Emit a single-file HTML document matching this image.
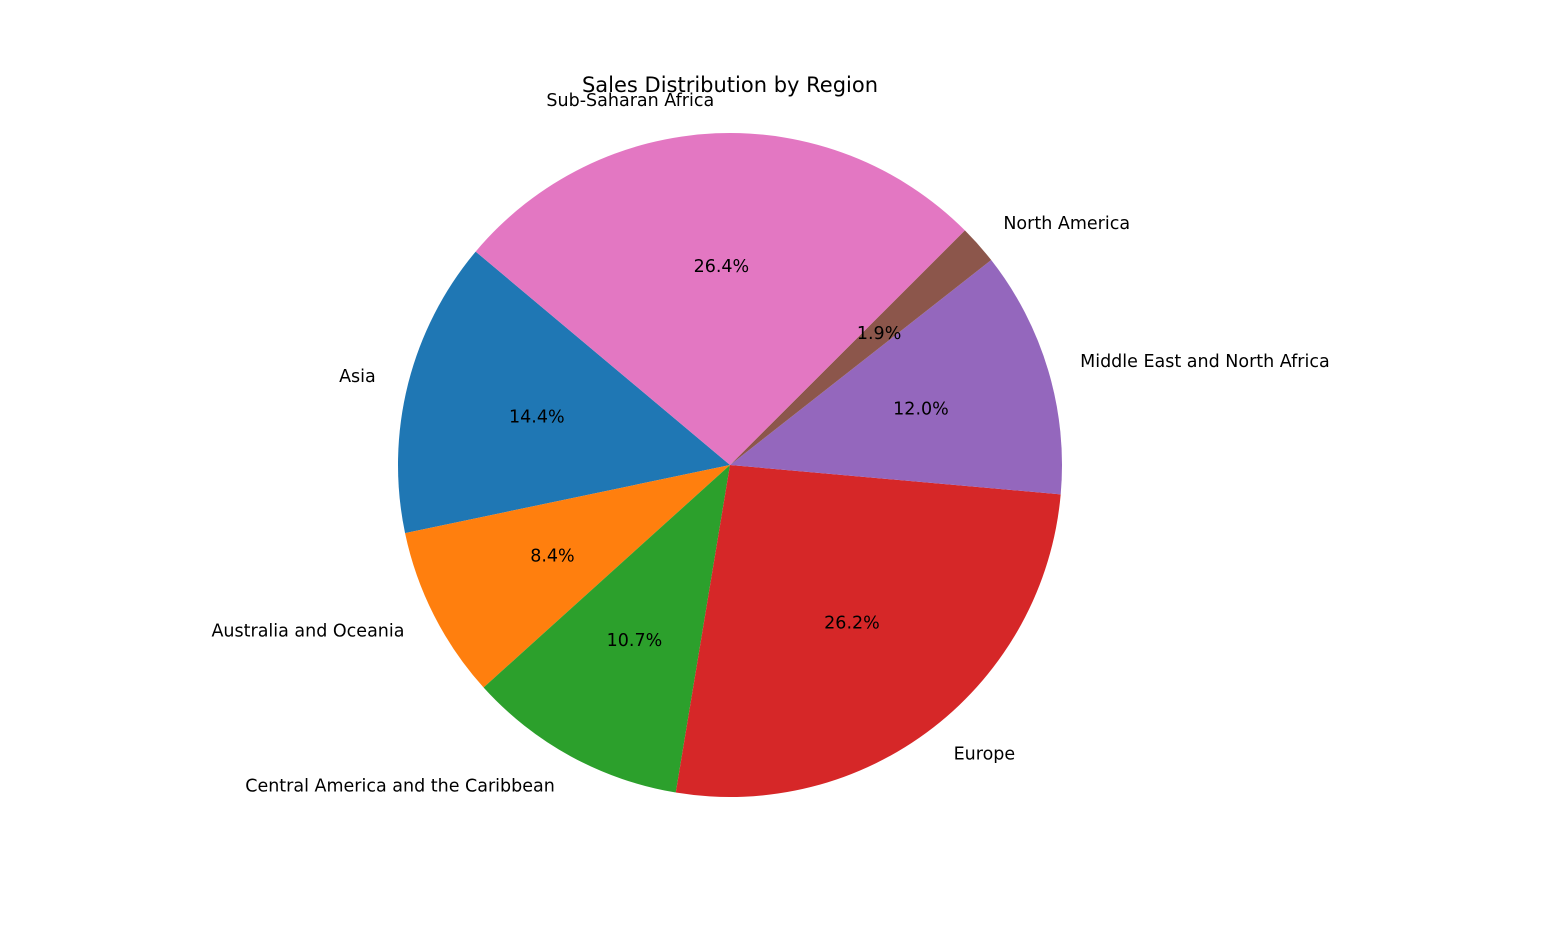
<!DOCTYPE html>
<html><head><meta charset="utf-8"><style>
body{margin:0;background:#fff;}
svg text{font-family:"DejaVu Sans","Liberation Sans",sans-serif;fill:#000;}
</style></head><body>
<svg id="chart" width="1544" height="923" viewBox="0 0 1544 923">
<rect width="1544" height="923" fill="#fff"/>
<text x="730" y="92" text-anchor="middle" font-size="21">Sales Distribution by Region</text>
<g id="slices"></g>
<g id="labels"></g>
</svg>
<script>
const categories = ["Asia","Australia and Oceania","Central America and the Caribbean","Europe","Middle East and North Africa","North America","Sub-Saharan Africa"];
const values = [14.4, 8.4, 10.7, 26.2, 12.0, 1.9, 26.4];
const colors = ["#1f77b4","#ff7f0e","#2ca02c","#d62728","#9467bd","#8c564b","#e377c2"];
const cx = 730, cy = 465, R = 332, startAngle = 140;
const ns = "http://www.w3.org/2000/svg";
const total = values.reduce((a,b)=>a+b,0);
const gS = document.getElementById("slices"), gL = document.getElementById("labels");
function pt(deg, r){ const a = deg*Math.PI/180; return [cx + r*Math.cos(a), cy - r*Math.sin(a)]; }
let ang = startAngle;
values.forEach((v,i)=>{
  const sweep = v/total*360;
  const a0 = ang, a1 = ang + sweep;
  const p0 = pt(a0,R), p1 = pt(a1,R);
  const large = sweep > 180 ? 1 : 0;
  const path = document.createElementNS(ns,"path");
  path.setAttribute("d", `M${cx},${cy} L${p0[0]},${p0[1]} A${R},${R} 0 ${large} 0 ${p1[0]},${p1[1]} Z`);
  path.setAttribute("fill", colors[i]);
  
  
  gS.appendChild(path);
  const mid = (a0+a1)/2;
  const lp = pt(mid, R*1.1);
  const t = document.createElementNS(ns,"text");
  t.setAttribute("x", lp[0]); t.setAttribute("y", lp[1]+6);
  t.setAttribute("font-size","17.5");
  t.setAttribute("text-anchor", Math.cos(mid*Math.PI/180) >= 0 ? "start" : "end");
  t.textContent = categories[i];
  
  
  gL.appendChild(t);
  const pp = pt(mid, R*0.6);
  const p = document.createElementNS(ns,"text");
  p.setAttribute("x", pp[0]); p.setAttribute("y", pp[1]+6);
  p.setAttribute("font-size","17.5");
  p.setAttribute("text-anchor","middle");
  p.textContent = (v/total*100).toFixed(1) + "%";
  
  
  gL.appendChild(p);
  ang = a1;
});
</script>
</body></html>
